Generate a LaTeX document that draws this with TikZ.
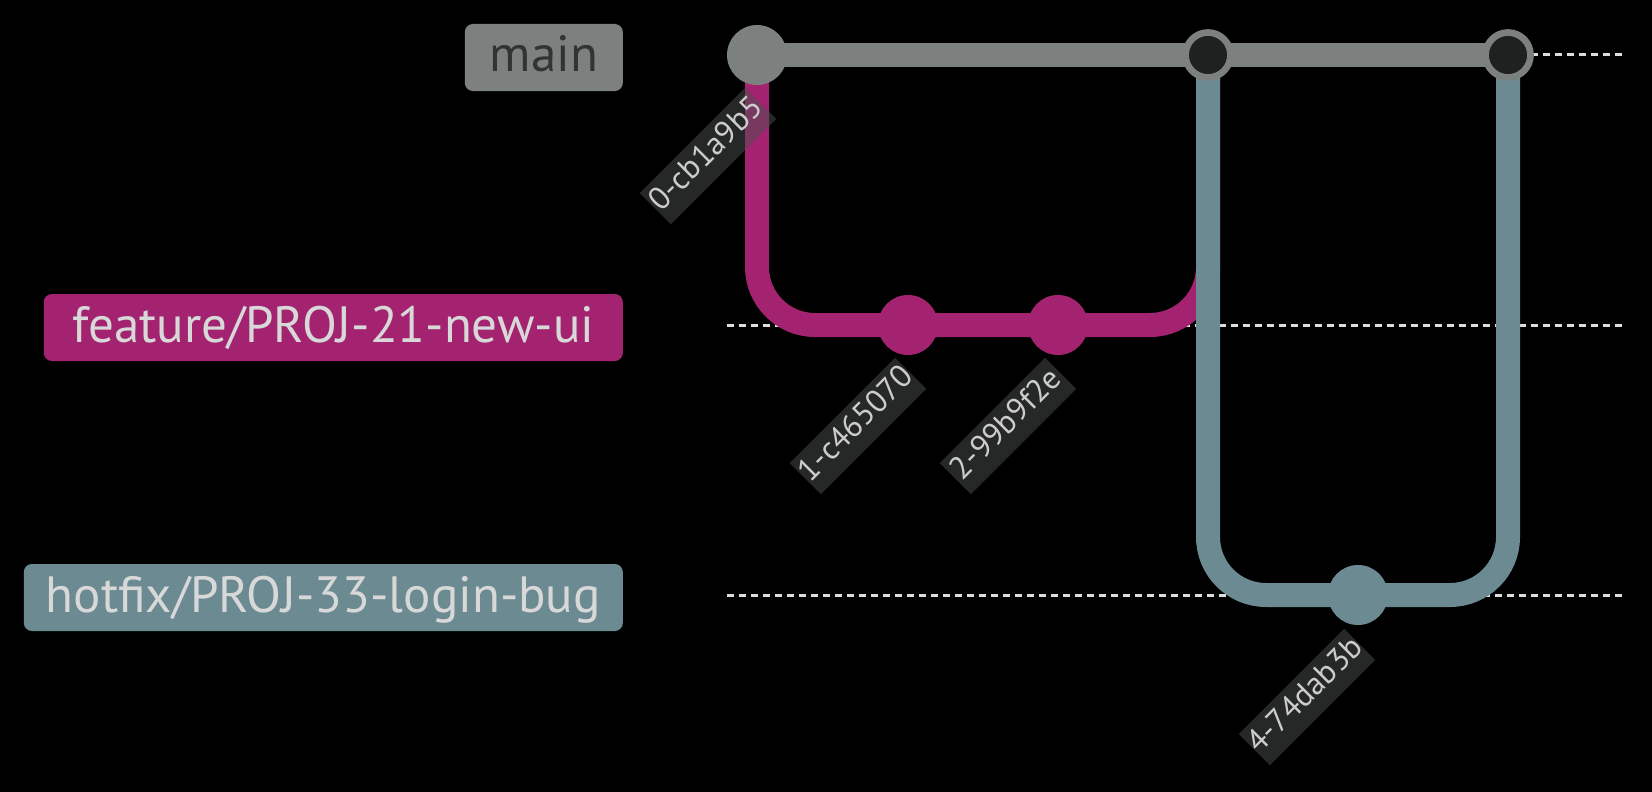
\documentclass[tikz,border=0pt]{standalone}
\usepackage{fontspec}
\setmainfont{PT Sans}
\definecolor{mainc}{HTML}{7C807F}
\definecolor{featc}{HTML}{A32371}
\definecolor{hotc}{HTML}{6C8A92}
\definecolor{mergein}{HTML}{1E2120}
\definecolor{labbg}{HTML}{4C5050}
\definecolor{labtext}{HTML}{CCCCCC}
\definecolor{lanec}{HTML}{DDDDDD}
\definecolor{maintext}{HTML}{333333}
\definecolor{brtext}{HTML}{D8D8D8}
\begin{document}
\begin{tikzpicture}[x=1pt,y=-1pt,
  lane/.style={draw=lanec, line width=3pt, dash pattern=on 7pt off 5pt},
  branch/.style={line width=24pt, rounded corners=58pt},
  commit/.style={circle, minimum size=60pt, inner sep=0pt, draw=none},
  merge/.style={circle, minimum size=45pt, inner sep=0pt, fill=mergein, draw=mainc, line width=6.7pt},
  clabel/.style={rotate=45, fill=labbg, fill opacity=0.5, text opacity=1, text=labtext,
    minimum width=149pt, minimum height=44pt, inner xsep=0pt, inner ysep=8pt,
    text height=21pt, text depth=7pt, font=\fontsize{32}{32}\selectfont},
  blabel/.style={rounded corners=8pt, minimum height=67pt, inner xsep=0pt, inner ysep=8pt,
    text height=40pt, text depth=11pt, anchor=east, font=\fontsize{51}{51}\selectfont}]
\fill[black] (0,0) rectangle (1652,792);
\useasboundingbox (0,0) rectangle (1652,792);
% positions
\coordinate (p0) at (757,55);
\coordinate (p1) at (908,325);
\coordinate (p2) at (1058,325);
\coordinate (p3) at (1208,55);
\coordinate (p4) at (1358,595);
\coordinate (p5) at (1508,55);
\coordinate (m0) at (727,55);   \coordinate (m1) at (1622,55);
\coordinate (f0) at (727,325);  \coordinate (f1) at (1622,325);
\coordinate (h0) at (727,595);  \coordinate (h1) at (1622,595);
% lanes
\draw[lane] (m0) -- (m1);
\draw[lane] (f0) -- (f1);
\draw[lane] (h0) -- (h1);
% branches
\draw[branch, draw=featc] (p0) -- (p0 |- p1) -- (p3 |- p1) -- (p3);
\draw[branch, draw=hotc] (p3) -- (p3 |- p4) -- (p5 |- p4) -- (p5);
\draw[branch, draw=mainc] (p0) -- (p3) -- (p5);
% commits
\node[commit, fill=mainc] (c0) at (p0) {};
\node[commit, fill=featc] (c1) at (p1) {};
\node[commit, fill=featc] (c2) at (p2) {};
\node[merge] (c3) at (p3) {};
\node[commit, fill=hotc] (c4) at (p4) {};
\node[merge] (c5) at (p5) {};
% commit labels
\node[clabel] (l0) at ([shift={(-49,101)}]c0.center) {0-cb1a9b5};
\node[clabel] (l1) at ([shift={(-50,101)}]c1.center) {1-c465070};
\node[clabel] (l2) at ([shift={(-50,101)}]c2.center) {2-99b9f2e};
\node[clabel] (l4) at ([shift={(-51,102)}]c4.center) {4-74dab3b};
% branch labels
\node[blabel, fill=mainc, text=maintext, minimum width=158pt] (bmain) at (623,57.5) {main};
\node[blabel, fill=featc, text=brtext, minimum width=579pt] (bfeat) at (623,327.5) {feature/PROJ-21-new-ui};
\node[blabel, fill=hotc, text=brtext, minimum width=599pt] (bhot) at (623,597.5) {hotfix/PROJ-33-login-bug};
\end{tikzpicture}
\end{document}
